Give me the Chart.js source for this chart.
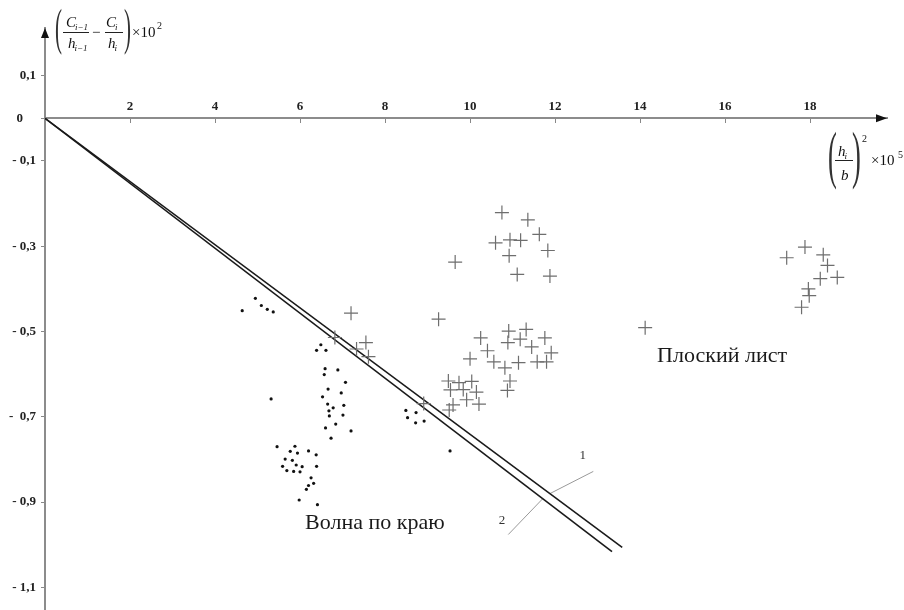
<!DOCTYPE html>
<html>
<head>
<meta charset="utf-8">
<script src="https://cdn.jsdelivr.net/npm/chart.js@4.4.1/dist/chart.umd.min.js"></script>
<style>
  html, body { margin: 0; padding: 0; background: #fff; }
  #chart { display: block; }
</style>
</head>
<body>
<canvas id="chart" width="904" height="610"></canvas>
<script>
// оси
const xTicks = [2, 4, 6, 8, 10, 12, 14, 16, 18];
const yTicks = [0.1, 0, -0.1, -0.3, -0.5, -0.7, -0.9, -1.1];
const yTickLabels = ['0,1', '0\u2002\u2002', '- 0,1', '- 0,3', '- 0,5', '-  0,7', '- 0,9', '- 1,1'];

// точки "Волна по краю"
const dotX = [4.95, 4.64, 5.09, 5.23, 5.37,
  6.49, 6.39, 6.61, 6.59, 6.89, 6.57, 7.07, 6.66, 6.97, 5.32, 6.53, 6.65, 6.78, 7.03, 6.68, 6.69, 7.01, 6.84, 6.60, 7.20, 6.73,
  5.46, 5.88, 5.77, 5.94, 6.20, 6.38, 5.65, 5.82, 5.91, 5.59, 6.05, 6.39, 5.69, 5.85, 6.00, 6.26, 6.32, 6.20, 6.15, 5.98, 6.41,
  8.49, 8.73, 8.53, 8.72, 8.92, 9.53];
const dotY = [-0.422, -0.451, -0.439, -0.448, -0.454,
  -0.531, -0.544, -0.544, -0.587, -0.590, -0.601, -0.619, -0.635, -0.644, -0.658, -0.653, -0.670, -0.679, -0.673, -0.686, -0.698, -0.696, -0.717, -0.726, -0.733, -0.750,
  -0.770, -0.769, -0.781, -0.785, -0.780, -0.789, -0.799, -0.802, -0.813, -0.816, -0.817, -0.816, -0.826, -0.828, -0.829, -0.843, -0.856, -0.861, -0.870, -0.895, -0.906,
  -0.685, -0.690, -0.702, -0.714, -0.710, -0.780];

// крестики "Плоский лист"
const crossX = [10.75, 11.36, 11.63, 10.60, 10.94, 11.19, 11.83, 10.92, 9.65, 11.11, 11.88,
  9.26, 10.25, 10.91, 11.32, 10.89, 11.18, 11.45, 11.76, 11.91, 10.41, 10.00, 10.56, 10.82, 11.14, 11.58, 11.80, 10.94, 10.88,
  9.49, 9.74, 10.04, 9.54, 9.84, 10.15, 9.92, 10.21, 9.60, 9.51, 8.91,
  7.20, 6.82, 7.55, 7.33, 7.61,
  14.12,
  17.45, 17.88, 18.31, 18.41, 18.64, 18.24, 17.96, 17.98, 17.80];
const crossY = [-0.221, -0.238, -0.272, -0.292, -0.285, -0.286, -0.310, -0.322, -0.337, -0.366, -0.370,
  -0.471, -0.515, -0.499, -0.495, -0.526, -0.518, -0.536, -0.515, -0.550, -0.545, -0.564, -0.571, -0.585, -0.573, -0.571, -0.571, -0.616, -0.638,
  -0.616, -0.620, -0.617, -0.637, -0.636, -0.642, -0.660, -0.670, -0.672, -0.684, -0.669,
  -0.457, -0.514, -0.526, -0.541, -0.559,
  -0.491,
  -0.327, -0.302, -0.320, -0.345, -0.373, -0.376, -0.400, -0.416, -0.443];

// прямые 1 и 2 и выноски к ним
const line1X = [0, 13.58];
const line1Y = [0, -1.006];
const line2X = [0, 13.34];
const line2Y = [0, -1.016];
const leader1X = [12.90, 11.88];
const leader1Y = [-0.828, -0.880];
const leader2X = [10.90, 11.71];
const leader2Y = [-0.976, -0.892];

const SERIF = '"Liberation Serif", "Times New Roman", serif';

const toPoints = (xs, ys) => xs.map((x, i) => ({ x: x, y: ys[i] }));

// буква с нижним индексом
function drawSub(c, base, sub, x, y, size) {
    c.font = `italic ${size}px ${SERIF}`;
    c.fillText(base, x, y);
    const w = c.measureText(base).width;
    c.font = `italic ${Math.round(size * 0.62)}px ${SERIF}`;
    c.fillText(sub, x + w - 1, y + size * 0.22);
}

// большая скобка, сжатая по ширине
function drawParen(c, ch, x, baseline, size) {
    c.save();
    c.translate(x, baseline);
    c.scale(0.42, 1);
    c.fillStyle = '#333';
    c.font = `${size}px ${SERIF}`;
    c.fillText(ch, 0, 0);
    c.restore();
}

// убираем запас, который шкала добавляет под крайние подписи
function fixPadding(s) {
    s.paddingTop = 0;
    s.paddingBottom = 0;
    s.paddingLeft = 0;
    s.paddingRight = 0;
}

const axisDecor = {
    id: 'axisDecor',
    afterDraw(chart) {
        const c = chart.ctx;
        const area = chart.chartArea;
        const sx = chart.scales.x;
        const sy = chart.scales.y;
        const y0 = sy.getPixelForValue(0);
        c.save();
        c.fillStyle = '#111';

        // стрелки осей
        c.beginPath();
        c.moveTo(area.left, area.top);
        c.lineTo(area.left - 4, area.top + 10);
        c.lineTo(area.left + 4, area.top + 10);
        c.closePath();
        c.fill();
        c.beginPath();
        c.moveTo(area.right, y0);
        c.lineTo(area.right - 11, y0 - 4);
        c.lineTo(area.right - 11, y0 + 4);
        c.closePath();
        c.fill();

        c.textAlign = 'left';
        c.textBaseline = 'alphabetic';
        c.strokeStyle = '#222';
        c.lineWidth = 1;

        // подпись оси Y
        drawParen(c, '(', 55, 44, 50);
        drawSub(c, 'C', 'i\u22121', 66, 27, 15);
        c.beginPath(); c.moveTo(63, 32.5); c.lineTo(89, 32.5); c.stroke();
        drawSub(c, 'h', 'i\u22121', 68, 48, 15);
        c.font = `15px ${SERIF}`;
        c.fillText('\u2212', 92, 37);
        drawSub(c, 'C', 'i', 106, 27, 15);
        c.beginPath(); c.moveTo(105, 32.5); c.lineTo(123, 32.5); c.stroke();
        drawSub(c, 'h', 'i', 108, 48, 15);
        drawParen(c, ')', 124, 44, 50);
        c.font = `15px ${SERIF}`;
        c.fillText('\u00d710', 132, 37);
        c.font = `10px ${SERIF}`;
        c.fillText('2', 157, 29);

        // подпись оси X
        drawParen(c, '(', 828, 176, 63);
        drawSub(c, 'h', 'i', 838, 156, 15);
        c.beginPath(); c.moveTo(835, 160.5); c.lineTo(853, 160.5); c.stroke();
        c.font = `italic 15px ${SERIF}`;
        c.fillText('b', 841, 180);
        drawParen(c, ')', 852, 176, 63);
        c.font = `10px ${SERIF}`;
        c.fillText('2', 862, 142);
        c.font = `15px ${SERIF}`;
        c.fillText('\u00d710', 871, 165);
        c.font = `10px ${SERIF}`;
        c.fillText('5', 898, 158);

        // надписи областей
        c.textAlign = 'center';
        c.textBaseline = 'middle';
        c.fillStyle = '#1a1a1a';
        c.font = `22px ${SERIF}`;
        c.fillText('Волна по краю', sx.getPixelForValue(7.76), sy.getPixelForValue(-0.950));
        c.fillText('Плоский лист', sx.getPixelForValue(15.93), sy.getPixelForValue(-0.557));
        c.font = `13px ${SERIF}`;
        c.fillStyle = '#333';
        c.fillText('1', sx.getPixelForValue(12.65), sy.getPixelForValue(-0.792));
        c.fillText('2', sx.getPixelForValue(10.75), sy.getPixelForValue(-0.944));
        c.restore();
    }
};

const ctx = document.getElementById('chart').getContext('2d');
const chart = new Chart(ctx, {
    type: 'scatter',
    data: {
        datasets: [
            {
                label: 'Волна по краю',
                data: toPoints(dotX, dotY),
                pointStyle: 'circle',
                pointRadius: 1.6,
                backgroundColor: '#111',
                borderColor: '#111',
                borderWidth: 0
            },
            {
                label: 'Плоский лист',
                data: toPoints(crossX, crossY),
                pointStyle: 'cross',
                pointRadius: 7,
                borderColor: '#6e6e6e',
                borderWidth: 1.2
            },
            {
                label: '1',
                data: toPoints(line1X, line1Y),
                showLine: true,
                pointRadius: 0,
                borderColor: '#1a1a1a',
                borderWidth: 1.6
            },
            {
                label: '2',
                data: toPoints(line2X, line2Y),
                showLine: true,
                pointRadius: 0,
                borderColor: '#1a1a1a',
                borderWidth: 1.6
            },
            {
                label: 'выноска 1',
                data: toPoints(leader1X, leader1Y),
                showLine: true,
                pointRadius: 0,
                borderColor: '#999',
                borderWidth: 1
            },
            {
                label: 'выноска 2',
                data: toPoints(leader2X, leader2Y),
                showLine: true,
                pointRadius: 0,
                borderColor: '#999',
                borderWidth: 1
            }
        ]
    },
    options: {
        responsive: false,
        animation: false,
        layout: { autoPadding: false, padding: { top: 28, right: 17, bottom: 0, left: 0 } },
        plugins: {
            legend: { display: false },
            tooltip: { enabled: false }
        },
        scales: {
            x: {
                type: 'linear',
                min: 0,
                max: 19.81,
                position: { y: 0 },
                afterBuildTicks: s => { s.ticks = xTicks.map(v => ({ value: v })); },
                afterFit: s => { s.height = 0; fixPadding(s); },
                grid: { drawOnChartArea: false, drawTicks: true, tickLength: 4, color: '#888' },
                border: { color: '#8c8c8c', width: 2 },
                ticks: {
                    autoSkip: false,
                    maxRotation: 0,
                    padding: -23,
                    color: '#222',
                    font: { family: SERIF, size: 13, weight: 'bold' }
                }
            },
            y: {
                type: 'linear',
                min: -1.153,
                max: 0.2118,
                position: 'left',
                afterBuildTicks: s => { s.ticks = yTicks.map(v => ({ value: v })); },
                afterFit: s => { s.width = 45; fixPadding(s); },
                grid: { drawOnChartArea: false, drawTicks: true, tickLength: 4, color: '#888' },
                border: { color: '#8c8c8c', width: 2 },
                ticks: {
                    autoSkip: false,
                    padding: 5,
                    color: '#222',
                    font: { family: SERIF, size: 13, weight: 'bold' },
                    callback: (value, index) => yTickLabels[index]
                }
            }
        }
    },
    plugins: [axisDecor]
});
</script>
</body>
</html>
